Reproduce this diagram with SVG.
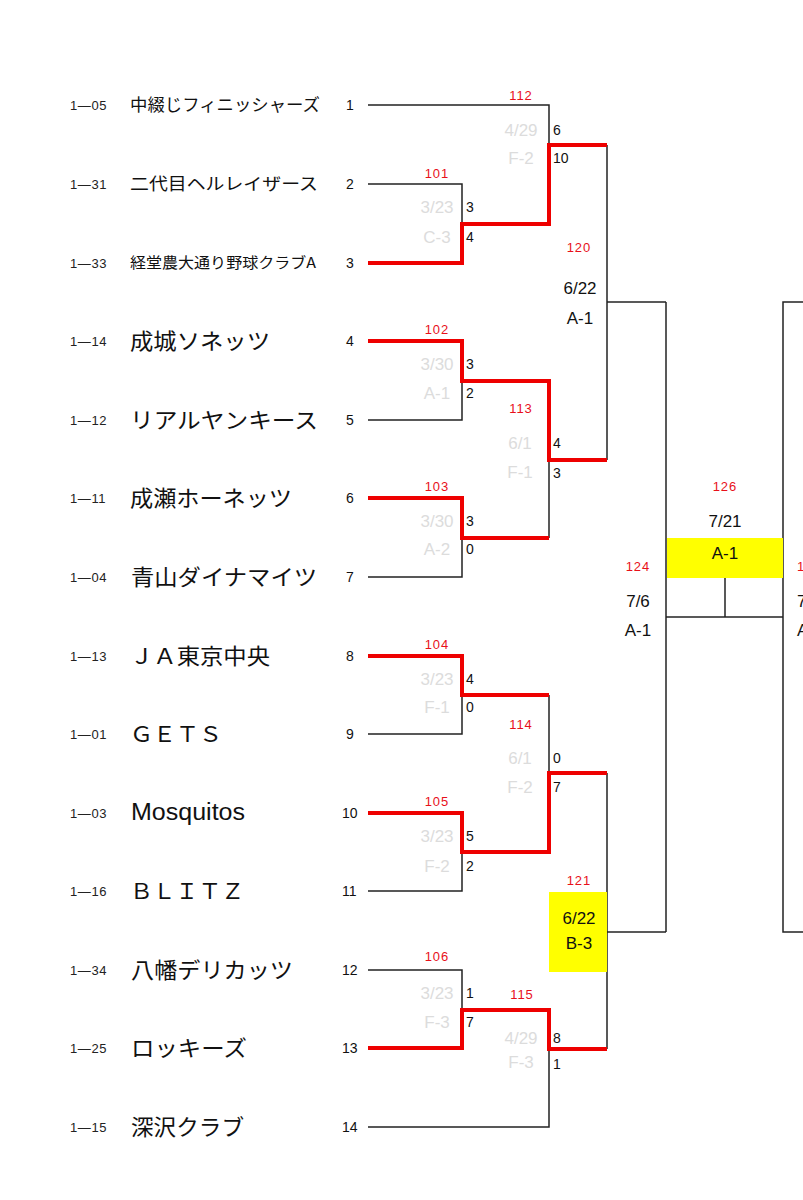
<svg xmlns="http://www.w3.org/2000/svg" width="803" height="1200" viewBox="0 0 803 1200">
<style>
.code{font-family:"Liberation Sans",Arial,sans-serif;font-size:13px;fill:#222;letter-spacing:0.6px}
.name{font-family:"Noto Sans CJK JP","Liberation Sans",sans-serif;font-size:22px;fill:#111}
.seed{font-family:"Liberation Sans",Arial,sans-serif;font-size:14px;fill:#111}
.sc{font-family:"Liberation Sans",Arial,sans-serif;font-size:14px;fill:#111}
.gr{font-family:"Liberation Sans",Arial,sans-serif;font-size:17px;fill:#dcdcdc;text-anchor:middle}
.no{font-family:"Liberation Sans",Arial,sans-serif;font-size:13px;fill:#e8101a;text-anchor:middle;letter-spacing:1px}
.dt{font-family:"Liberation Sans",Arial,sans-serif;font-size:17px;fill:#111;text-anchor:middle}
.bl{fill:none;stroke:#222;stroke-width:1.5}
.rd{fill:none;stroke:#ee0000;stroke-width:4;stroke-linejoin:miter}
.yb{fill:#ffff00}
</style>
<rect width="803" height="1200" fill="#fff"/>

<g id="teams">
<g id="t1"><text class="code" x="70" y="110">1—05</text><text class="name" x="130" y="111" style="font-size:17px" textLength="190" lengthAdjust="spacingAndGlyphs">中綴じフィニッシャーズ</text><text class="seed" x="346" y="110">1</text></g>
<g id="t2"><text class="code" x="70" y="189">1—31</text><text class="name" x="130" y="190" style="font-size:17px" textLength="188" lengthAdjust="spacingAndGlyphs">二代目ヘルレイザース</text><text class="seed" x="346" y="189">2</text></g>
<g id="t3"><text class="code" x="70" y="268">1—33</text><text class="name" x="130" y="268" style="font-size:15px" textLength="186" lengthAdjust="spacingAndGlyphs">経堂農大通り野球クラブA</text><text class="seed" x="346" y="268">3</text></g>
<g id="t4"><text class="code" x="70" y="346">1—14</text><text class="name" x="130" y="349" textLength="140" lengthAdjust="spacingAndGlyphs">成城ソネッツ</text><text class="seed" x="346" y="346">4</text></g>
<g id="t5"><text class="code" x="70" y="425">1—12</text><text class="name" x="130" y="428" textLength="188" lengthAdjust="spacingAndGlyphs">リアルヤンキース</text><text class="seed" x="346" y="425">5</text></g>
<g id="t6"><text class="code" x="70" y="503">1—11</text><text class="name" x="130" y="506" textLength="162" lengthAdjust="spacingAndGlyphs">成瀬ホーネッツ</text><text class="seed" x="346" y="503">6</text></g>
<g id="t7"><text class="code" x="70" y="582">1—04</text><text class="name" x="131" y="585" textLength="186" lengthAdjust="spacingAndGlyphs">青山ダイナマイツ</text><text class="seed" x="346" y="582">7</text></g>
<g id="t8"><text class="code" x="70" y="661">1—13</text><text class="name" x="130" y="664" textLength="140" lengthAdjust="spacingAndGlyphs">ＪＡ東京中央</text><text class="seed" x="346" y="661">8</text></g>
<g id="t9"><text class="code" x="70" y="739">1—01</text><text class="name" x="130" y="742" textLength="92" lengthAdjust="spacingAndGlyphs">ＧＥＴＳ</text><text class="seed" x="346" y="739">9</text></g>
<g id="t10"><text class="code" x="70" y="818">1—03</text><text class="name" x="131" y="820" style="font-family:'Liberation Sans',Arial,sans-serif;font-size:23px" textLength="114" lengthAdjust="spacingAndGlyphs">Mosquitos</text><text class="seed" x="342" y="818">10</text></g>
<g id="t11"><text class="code" x="70" y="896">1—16</text><text class="name" x="130" y="899" textLength="114" lengthAdjust="spacingAndGlyphs">ＢＬＩＴＺ</text><text class="seed" x="342" y="896">11</text></g>
<g id="t12"><text class="code" x="70" y="975">1—34</text><text class="name" x="131" y="978" textLength="162" lengthAdjust="spacingAndGlyphs">八幡デリカッツ</text><text class="seed" x="342" y="975">12</text></g>
<g id="t13"><text class="code" x="70" y="1053">1—25</text><text class="name" x="131" y="1056" textLength="116" lengthAdjust="spacingAndGlyphs">ロッキーズ</text><text class="seed" x="342" y="1053">13</text></g>
<g id="t14"><text class="code" x="70" y="1132">1—15</text><text class="name" x="131" y="1135" textLength="113" lengthAdjust="spacingAndGlyphs">深沢クラブ</text><text class="seed" x="342" y="1132">14</text></g>
</g>

<g id="connectors">
<!-- black lines -->
<path class="bl" d="M368 105 H549 V145"/>
<path class="bl" d="M368 184 H462 V224"/>
<path class="bl" d="M368 420 H462 V381"/>
<path class="bl" d="M368 577 H462 V538"/>
<path class="bl" d="M549 538 V460"/>
<path class="bl" d="M607 145 V460"/>
<path class="bl" d="M607 302 H666"/>
<path class="bl" d="M368 734 H462 V695"/>
<path class="bl" d="M368 891 H462 V852"/>
<path class="bl" d="M549 695 V773"/>
<path class="bl" d="M368 970 H462 V1010"/>
<path class="bl" d="M368 1127 H549 V1049"/>
<path class="bl" d="M607 773 V1049"/>
<path class="bl" d="M607 932 H666"/>
<path class="bl" d="M666 302 V932"/>
<path class="bl" d="M666 617 H783"/>
<path class="bl" d="M725 578 V617"/>
<path class="bl" d="M803 302 H783 V932 H803"/>
<!-- red winner paths -->
<path class="rd" d="M368 263 H462 V224 H549 V145 H607"/>
<path class="rd" d="M368 341 H462 V381 H549 V460 H607"/>
<path class="rd" d="M368 498 H462 V538 H549"/>
<path class="rd" d="M368 656 H462 V695 H549"/>
<path class="rd" d="M368 813 H462 V852 H549 V773 H607"/>
<path class="rd" d="M368 1048 H462 V1010 H549 V1049 H607"/>
</g>

<g id="m101"><text class="no" x="437" y="178">101</text><text class="gr" x="437" y="213">3/23</text><text class="gr" x="437" y="243">C-3</text><text class="sc" x="466" y="212">3</text><text class="sc" x="466" y="242">4</text></g>
<g id="m102"><text class="no" x="437" y="334">102</text><text class="gr" x="437" y="370">3/30</text><text class="gr" x="437" y="399">A-1</text><text class="sc" x="466" y="369">3</text><text class="sc" x="466" y="398">2</text></g>
<g id="m103"><text class="no" x="437" y="491">103</text><text class="gr" x="437" y="527">3/30</text><text class="gr" x="437" y="555">A-2</text><text class="sc" x="466" y="526">3</text><text class="sc" x="466" y="554">0</text></g>
<g id="m104"><text class="no" x="437" y="649">104</text><text class="gr" x="437" y="685">3/23</text><text class="gr" x="437" y="713">F-1</text><text class="sc" x="466" y="684">4</text><text class="sc" x="466" y="712">0</text></g>
<g id="m105"><text class="no" x="437" y="806">105</text><text class="gr" x="437" y="842">3/23</text><text class="gr" x="437" y="872">F-2</text><text class="sc" x="466" y="841">5</text><text class="sc" x="466" y="871">2</text></g>
<g id="m106"><text class="no" x="437" y="961">106</text><text class="gr" x="437" y="999">3/23</text><text class="gr" x="437" y="1028">F-3</text><text class="sc" x="466" y="998">1</text><text class="sc" x="466" y="1027">7</text></g>
<g id="m112"><text class="no" x="521" y="100">112</text><text class="gr" x="521" y="136">4/29</text><text class="gr" x="521" y="164">F-2</text><text class="sc" x="553" y="135">6</text><text class="sc" x="553" y="163">10</text></g>
<g id="m113"><text class="no" x="521" y="413">113</text><text class="gr" x="520" y="449">6/1</text><text class="gr" x="520" y="478">F-1</text><text class="sc" x="553" y="448">4</text><text class="sc" x="553" y="478">3</text></g>
<g id="m114"><text class="no" x="521" y="729">114</text><text class="gr" x="520" y="764">6/1</text><text class="gr" x="520" y="793">F-2</text><text class="sc" x="553" y="763">0</text><text class="sc" x="553" y="792">7</text></g>
<g id="m115"><text class="no" x="522" y="999">115</text><text class="gr" x="521" y="1044">4/29</text><text class="gr" x="521" y="1068">F-3</text><text class="sc" x="553" y="1043">8</text><text class="sc" x="553" y="1069">1</text></g>
<g id="m120"><text class="no" x="579" y="252">120</text><text class="dt" x="580" y="294">6/22</text><text class="dt" x="580" y="324">A-1</text></g>
<g id="m121"><rect class="yb" x="549" y="892" width="58" height="80"/><text class="no" x="579" y="885">121</text><text class="dt" x="579" y="924">6/22</text><text class="dt" x="579" y="949">B-3</text></g>
<g id="m124"><text class="no" x="638" y="571">124</text><text class="dt" x="638" y="607">7/6</text><text class="dt" x="638" y="636">A-1</text></g>
<g id="m126"><rect class="yb" x="667" y="538" width="116" height="40"/><text class="no" x="725" y="491">126</text><text class="dt" x="725" y="527">7/21</text><text class="dt" x="725" y="559">A-1</text></g>
<g id="m125"><text class="no" x="797" y="571" style="text-anchor:start">1</text><text class="dt" x="797" y="607" style="text-anchor:start">7</text><text class="dt" x="797" y="636" style="text-anchor:start">A</text></g>
</svg>
